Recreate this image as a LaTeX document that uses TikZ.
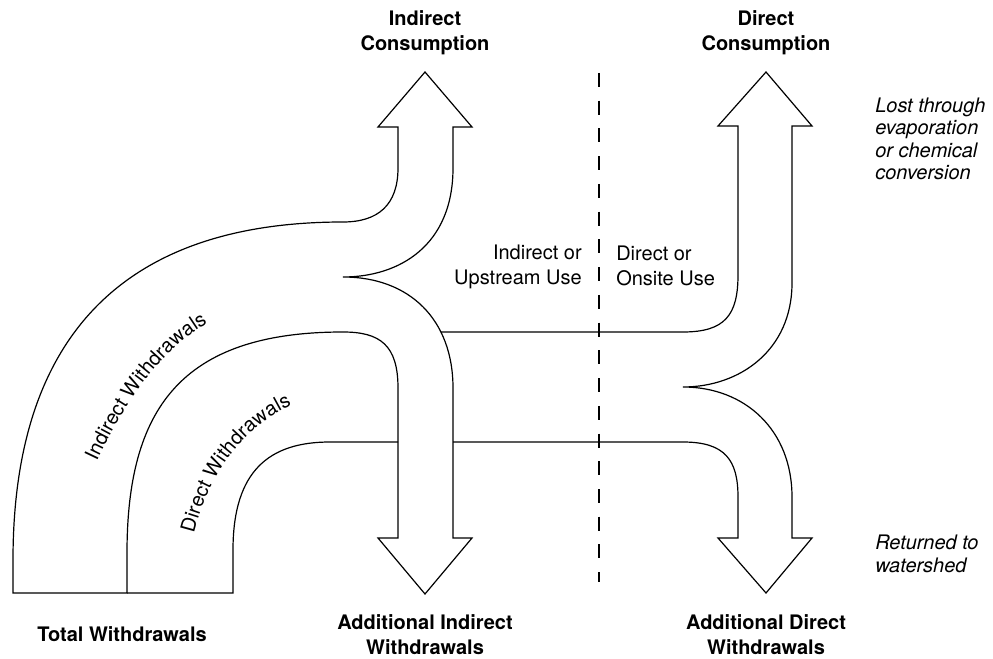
\documentclass[tikz,border=0pt]{standalone}
\usepackage{fontspec}
\setmainfont{TeX Gyre Heros}
\usetikzlibrary{decorations.text}
\tikzset{
	flow/.style = {line width = .9pt, line join = miter},
	divider/.style = {line width = .9pt, dash pattern = on 10.5pt off 10.3pt},
	title/.style = {font = \fontsize{15}{18.75}\selectfont\bfseries, align = center, inner sep = 0pt},
	usetext/.style = {font = \fontsize{15}{18.75}\selectfont, inner sep = 0pt},
	note/.style = {font = \fontsize{15}{16.8}\selectfont\itshape, align = left, anchor = west, inner sep = 0pt},
}
\begin{document}
\begin{tikzpicture}[x = .75pt, y = -.75pt]
	\useasboundingbox (0,0) rectangle (993,659);
	% indirect band
	\draw[flow] (127,593) -- (13,593) -- (13,560) .. controls (13,330) and (130,222) .. (343,222)
		.. controls (378,222) and (398,205) .. (398,168) -- (398,127) -- (378,127) -- (425,72) -- (472,127) -- (453,127) -- (453,168)
		.. controls (453,245) and (400,277) .. (343,277)
		.. controls (410,277) and (453,320) .. (453,388) -- (453,538) -- (472,538) -- (425,594) -- (378,538) -- (398,538) -- (398,388)
		.. controls (398,345) and (380,332) .. (343,332)
		.. controls (180,332) and (127,410) .. (127,553) -- cycle;
	% direct band
	\draw[flow] (127,593) -- (233,593) -- (233,550) .. controls (233,470) and (270,442) .. (330,442) -- (398,442);
	\draw[flow] (453,442) -- (683,442) .. controls (725,442) and (738,460) .. (738,497) -- (738,538) -- (718,538) -- (766,593) -- (812,538) -- (792,538) -- (792,497)
		.. controls (792,430) and (745,387) .. (683,387)
		.. controls (740,387) and (792,350) .. (792,283) -- (792,126) -- (812,126) -- (766,72) -- (718,126) -- (738,126) -- (738,275)
		.. controls (738,315) and (725,332) .. (683,332) -- (441,332);
	\draw[divider] (599,73) -- (599,582);
	% labels
	\node[title] (indcons) at (425,33) {Indirect\\Consumption};
	\node[title] (dircons) at (766,33) {Direct\\Consumption};
	\node[title] (addind) at (425,635) {Additional Indirect\\Withdrawals};
	\node[title] (adddir) at (766,635) {Additional Direct\\Withdrawals};
	\node[title] (total) at (122,634) {Total Withdrawals};
	\node[usetext, align = right, anchor = east] (induse) at (582,267) {Indirect or\\Upstream Use};
	\node[usetext, align = left, anchor = west] (diruse) at (616,266) {Direct or\\Onsite Use};
	\node[note] (lost) at (875,139) {Lost through\\evaporation\\or chemical\\conversion};
	\node[note] (returned) at (875,554) {Returned to\\watershed};
	\path[decorate, decoration = {text along path, text align = center, text = {|\fontsize{15}{18}\selectfont|Indirect Withdrawals}}]
		(92,472) .. controls (120,410) and (160,345) .. (218,318);
	\path[decorate, decoration = {text along path, text align = center, text = {|\fontsize{15}{18}\selectfont|Direct Withdrawals}}]
		(192,542) .. controls (205,480) and (240,425) .. (300,402);
\end{tikzpicture}
\end{document}
